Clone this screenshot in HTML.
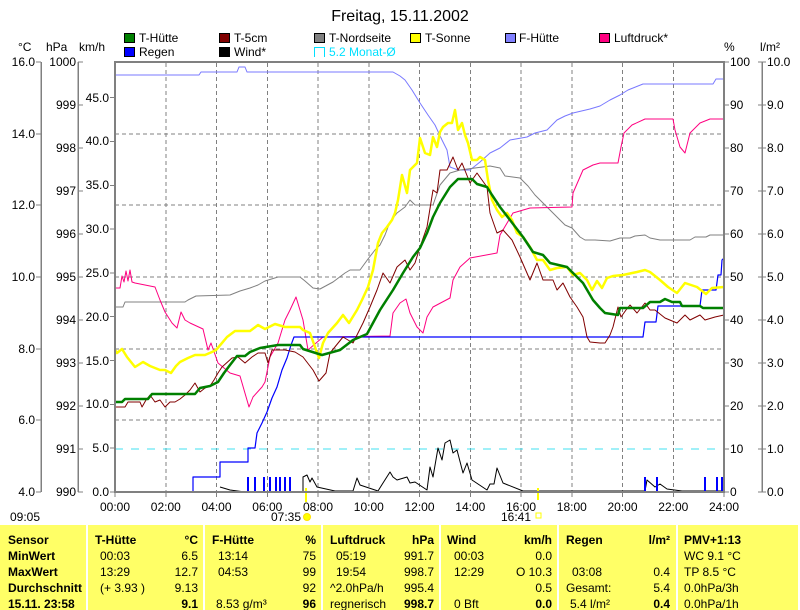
<!DOCTYPE html>
<html><head><meta charset="utf-8"><style>
html,body{margin:0;padding:0;background:#fff;}
svg{display:block;font-family:"Liberation Sans",Arial,sans-serif;}
</style></head><body>
<svg width="800" height="610" viewBox="0 0 800 610" xmlns="http://www.w3.org/2000/svg">
<rect width="800" height="610" fill="#fff"/>
<text x="400" y="21" font-size="16" text-anchor="middle" fill="#000">Freitag, 15.11.2002</text>
<g font-size="12" fill="#000">
<rect x="124.5" y="33.5" width="10" height="9" fill="#008000" stroke="#000"/><text x="139" y="42">T-Hütte</text>
<rect x="219.5" y="33.5" width="10" height="9" fill="#800000" stroke="#000"/><text x="234" y="42">T-5cm</text>
<rect x="314.5" y="33.5" width="10" height="9" fill="#808080" stroke="#000"/><text x="329" y="42">T-Nordseite</text>
<rect x="410.5" y="33.5" width="10" height="9" fill="#ffff00" stroke="#000"/><text x="425" y="42">T-Sonne</text>
<rect x="505.5" y="33.5" width="10" height="9" fill="#8080ff" stroke="#000"/><text x="519" y="42">F-Hütte</text>
<rect x="599.5" y="33.5" width="10" height="9" fill="#ff0080" stroke="#000"/><text x="614" y="42">Luftdruck*</text>
<rect x="124.5" y="47.5" width="10" height="9" fill="#0000ff" stroke="#000"/><text x="139" y="56">Regen</text>
<rect x="219.5" y="47.5" width="10" height="9" fill="#000" stroke="#000"/><text x="234" y="56">Wind*</text>
<path d="M314.5,57 V47.5 H324.5 V57" fill="none" stroke="#00e0ff"/><text x="329" y="56" fill="#00e0ff">5.2 Monat-Ø</text>
</g>
<g font-size="12" fill="#000">
<text x="18" y="51">°C</text><text x="46" y="51">hPa</text><text x="79" y="51">km/h</text>
<text x="724" y="51">%</text><text x="760" y="51">l/m²</text>
</g>
<g stroke="#808080" stroke-width="1.5" shape-rendering="crispEdges">
<line x1="41" y1="62" x2="41" y2="492"/><line x1="78" y1="62" x2="78" y2="492"/>
<line x1="762" y1="62" x2="762" y2="492"/>
</g>
<g stroke="#808080" stroke-width="1" shape-rendering="crispEdges">
<path d="M36,62H41M36,134H41M36,205H41M36,277H41M36,349H41M36,420H41M36,492H41"/>
<path d="M78,62H83M78,105H83M78,148H83M78,191H83M78,234H83M78,277H83M78,320H83M78,363H83M78,406H83M78,449H83M78,492H83"/>
<path d="M110,97.7H115M110,141.5H115M110,185.3H115M110,229.1H115M110,272.9H115M110,316.7H115M110,360.5H115M110,404.3H115M110,448.1H115M110,492H115"/>
<path d="M724,62H729M724,105H729M724,148H729M724,191H729M724,234H729M724,277H729M724,320H729M724,363H729M724,406H729M724,449H729M724,492H729"/>
<path d="M758,62H766M758,105H766M758,148H766M758,191H766M758,234H766M758,277H766M758,320H766M758,363H766M758,406H766M758,449H766M758,492H766"/>
<path d="M115,492V497M165.8,492V497M216.5,492V497M267.3,492V497M318,492V497M368.8,492V497M419.5,492V497M470.3,492V497M521,492V497M571.8,492V497M622.5,492V497M673.3,492V497M724,492V497"/>
</g>
<g font-size="12" fill="#000" text-anchor="end">
<text x="35" y="66">16.0</text><text x="35" y="138">14.0</text><text x="35" y="209">12.0</text><text x="35" y="281">10.0</text><text x="35" y="353">8.0</text><text x="35" y="424">6.0</text><text x="35" y="496">4.0</text>
<text x="76" y="66">1000</text><text x="76" y="109">999</text><text x="76" y="152">998</text><text x="76" y="195">997</text><text x="76" y="238">996</text><text x="76" y="281">995</text><text x="76" y="324">994</text><text x="76" y="367">993</text><text x="76" y="410">992</text><text x="76" y="453">991</text><text x="76" y="496">990</text>
<text x="109" y="102">45.0</text><text x="109" y="145">40.0</text><text x="109" y="189">35.0</text><text x="109" y="233">30.0</text><text x="109" y="277">25.0</text><text x="109" y="321">20.0</text><text x="109" y="365">15.0</text><text x="109" y="408">10.0</text><text x="109" y="452">5.0</text><text x="109" y="496">0.0</text>
</g>
<g font-size="12" fill="#000">
<text x="730" y="66">100</text><text x="730" y="109">90</text><text x="730" y="152">80</text><text x="730" y="195">70</text><text x="730" y="238">60</text><text x="730" y="281">50</text><text x="730" y="324">40</text><text x="730" y="367">30</text><text x="730" y="410">20</text><text x="730" y="453">10</text><text x="730" y="496">0</text>
<text x="767" y="66">10.0</text><text x="767" y="109">9.0</text><text x="767" y="152">8.0</text><text x="767" y="195">7.0</text><text x="767" y="238">6.0</text><text x="767" y="281">5.0</text><text x="767" y="324">4.0</text><text x="767" y="367">3.0</text><text x="767" y="410">2.0</text><text x="767" y="453">1.0</text><text x="767" y="496">0.0</text>
</g>
<g font-size="12" fill="#000" text-anchor="middle">
<text x="115" y="511">00:00</text><text x="165.8" y="511">02:00</text><text x="216.5" y="511">04:00</text><text x="267.3" y="511">06:00</text><text x="318" y="511">08:00</text><text x="368.8" y="511">10:00</text><text x="419.5" y="511">12:00</text><text x="470.3" y="511">14:00</text><text x="521" y="511">16:00</text><text x="571.8" y="511">18:00</text><text x="622.5" y="511">20:00</text><text x="673.3" y="511">22:00</text><text x="724" y="511">24:00</text>
<text x="286" y="521">07:35</text><text x="516" y="521">16:41</text>
</g>
<text x="10" y="521" font-size="12">09:05</text>
<circle cx="307" cy="517" r="3.5" fill="#ffff00" stroke="#ffe000"/>
<rect x="536" y="513" width="5" height="5" fill="none" stroke="#ffff00"/>
<g stroke="#808080" stroke-width="1" stroke-dasharray="4,3" shape-rendering="crispEdges">
<path d="M165.8,63V491M216.5,63V491M267.3,63V491M318,63V491M368.8,63V491M419.5,63V491M470.3,63V491M521,63V491M571.8,63V491M622.5,63V491M673.3,63V491"/>
<path d="M115,134H724M115,205H724M115,277H724M115,349H724M115,420H724"/>
</g>
<line x1="115" y1="449" x2="724" y2="449" stroke="#40e0f0" stroke-dasharray="8,8" shape-rendering="crispEdges"/>
<g fill="none" stroke-linejoin="round">
<polyline stroke="#000" stroke-width="1" points="220,487 230,490 245,492 303,492 303,477 307,475 310,482 312,478 317,487 335,491 353,491 357,478 360,485 378,491 383,483 390,472 393,477 397,480 407,477 410,483 415,482 427,490 430,467 433,477 438,448 442,460 445,443 450,440 453,453 457,450 463,473 467,463 472,480 487,490 490,484 494,484 497,468 503,483 523,491 528,491 645,491 647,480 655,487 660,484 667,489 682,491 724,491"/>
<polyline stroke="#7878ff" stroke-width="1" points="115,75 199,75 201,72 237,72 239,67 245,67 247,72 393,72 400,76 405,80 412,90 420,103 428,115 435,125 442,140 447,150 450,167 458,170 470,170 480,162 490,153 500,148 510,140 527,137 535,133 547,130 557,120 565,116 573,113 590,109 600,106 610,100 620,95 628,90 643,84 713,84 716,79 724,79"/>
<polyline stroke="#808080" stroke-width="1" points="115,307 123,307 125,302 185,302 188,300 196,296 230,295 240,291 250,288 258,285 265,281 278,277 300,277 305,281 313,288 320,289 333,282 345,273 350,270 360,270 368,259 375,250 380,245 385,235 390,222 397,213 405,207 410,200 415,205 433,205 440,185 450,173 460,170 475,168 490,166 500,168 505,176 520,178 528,186 535,195 545,205 555,215 565,225 572,228 580,237 585,240 595,240 610,241 620,238 630,238 635,236 645,235 650,238 660,240 690,240 695,237 706,237 710,235 724,235"/>
<polyline stroke="#ff0080" stroke-width="1" points="115,288 120,288 122,276 124,282 126,271 128,281 130,270 132,282 135,283 155,287 160,300 165,312 172,323 177,328 181,312 185,320 190,323 203,329 208,350 211,343 218,363 230,373 240,376 249,407 253,397 262,387 265,382 270,357 278,343 285,320 290,310 296,297 303,320 308,350 323,337 390,336 393,313 400,303 406,299 410,313 417,327 423,333 427,317 433,307 450,298 453,280 460,267 470,258 497,253 500,235 513,213 530,208 572,207 573,193 583,170 593,165 600,163 618,163 621,147 624,133 632,125 645,119 673,119 675,130 680,147 685,153 690,133 700,123 710,119 724,119"/>
<polyline stroke="#0000ff" stroke-width="1.2" points="115,492 193,492 193,477 220,477 220,462 248,462 248,448 255,448 257,433 262,423 267,412 272,398 277,387 282,370 287,358 291,345 294,337 643,337 645,322 656,322 658,306 700,306 702,290 716,290 718,275 721,275 722,260 724,258"/>
<polyline stroke="#ffff00" stroke-width="2.5" points="115,350 117,353 122,349 127,357 135,367 143,362 150,366 160,370 165,370 171,373 176,366 180,362 188,358 195,355 205,355 212,352 216,350 222,343 227,337 235,331 250,331 258,325 265,329 275,324 285,327 300,327 303,330 310,333 315,347 319,358 323,343 328,333 337,323 343,315 349,323 357,310 362,300 368,287 373,270 378,243 382,233 387,227 392,220 395,213 398,200 402,175 407,193 410,170 417,163 420,138 425,153 430,155 433,137 437,147 440,132 443,127 448,123 452,123 455,110 458,130 462,123 465,135 468,143 472,160 477,160 480,157 485,160 488,180 492,200 497,210 502,217 507,213 512,220 517,233 523,237 530,247 537,260 543,260 550,270 557,268 567,267 573,275 580,273 587,280 592,290 597,281 602,288 607,278 613,276 623,275 637,272 645,270 650,272 660,280 668,287 677,293 685,283 697,287 706,294 712,288 724,287"/>
<polyline stroke="#800000" stroke-width="1" points="115,407 125,407 128,402 140,402 142,407 146,400 150,395 155,402 160,400 165,407 170,402 175,402 180,399 185,395 190,390 195,383 200,392 205,388 210,386 214,380 218,373 222,367 232,358 238,357 245,363 252,357 258,353 265,353 268,363 272,350 285,350 295,352 303,357 313,370 319,381 326,373 330,353 343,337 353,343 363,323 370,307 377,290 383,273 390,283 397,267 405,260 410,270 415,263 420,247 427,227 433,190 437,193 440,170 447,170 453,157 458,170 462,163 470,183 477,173 487,187 490,213 497,233 503,230 512,240 520,257 530,280 537,263 543,280 553,280 557,290 563,283 570,297 577,307 583,317 587,337 590,342 600,343 605,343 610,335 613,327 618,307 621,317 626,310 630,305 637,313 645,303 650,310 655,310 665,318 677,323 685,315 690,320 700,315 705,320 715,317 724,315"/>
<polyline stroke="#008000" stroke-width="2.5" points="115,402 122,402 125,399 148,399 152,394 195,394 200,388 210,386 218,382 224,373 230,365 237,356 245,356 250,352 260,348 278,345 300,345 303,349 322,355 340,350 353,340 367,334 380,310 393,290 403,273 413,257 420,248 427,233 433,217 440,203 450,187 458,179 472,179 477,184 487,187 492,195 500,207 510,220 523,237 533,252 543,255 550,263 567,267 573,273 583,283 593,300 600,308 605,313 618,315 620,308 643,308 650,302 660,302 665,299 672,302 680,302 682,306 700,306 703,308 724,308"/>
</g>
<g stroke="#0000ff" stroke-width="2" shape-rendering="crispEdges">
<path d="M248,492V477M255,492V477M264,492V477M270,492V477M276,492V477M280,492V477M285,492V477M290,492V477M645,492V477M657,492V477M705,492V477M717,492V477M722,492V477"/>
</g>
<g stroke="#ffff00" stroke-width="2"><path d="M306,488V502M538,488V500"/></g>
<rect x="115" y="62" width="609" height="430" fill="none" stroke="#808080" stroke-width="2" shape-rendering="crispEdges"/>
<rect x="0" y="525" width="798" height="85" fill="#ffff66"/>
<g stroke="#fff" stroke-width="2"><path d="M87,525V610M204,525V610M322,525V610M440,525V610M558,525V610M677,525V610"/></g>
<g font-size="12" fill="#000">
<g font-weight="bold"><text x="8" y="544">Sensor</text><text x="8" y="560">MinWert</text><text x="8" y="576">MaxWert</text><text x="8" y="592">Durchschnitt</text><text x="8" y="608">15.11. 23:58</text>
<text x="95" y="544">T-Hütte</text><text x="212" y="544">F-Hütte</text><text x="330" y="544">Luftdruck</text><text x="447" y="544">Wind</text><text x="566" y="544">Regen</text><text x="684" y="544">PMV+1:13</text></g>
<text x="100" y="560">00:03</text><text x="100" y="576">13:29</text><text x="100" y="592">(+ 3.93 )</text>
<text x="218" y="560">13:14</text><text x="218" y="576">04:53</text><text x="216" y="608">8.53 g/m³</text>
<text x="336" y="560">05:19</text><text x="336" y="576">19:54</text><text x="330" y="592">^2.0hPa/h</text><text x="330" y="608">regnerisch</text>
<text x="454" y="560">00:03</text><text x="454" y="576">12:29</text><text x="454" y="608">0 Bft</text>
<text x="572" y="576">03:08</text><text x="566" y="592">Gesamt:</text><text x="570" y="608">5.4 l/m²</text>
<text x="684" y="560">WC 9.1 °C</text><text x="684" y="576">TP 8.5 °C</text><text x="684" y="592">0.0hPa/3h</text><text x="684" y="608">0.0hPa/1h</text>
<g text-anchor="end">
<text x="198" y="544" font-weight="bold">°C</text><text x="198" y="560">6.5</text><text x="198" y="576">12.7</text><text x="198" y="592">9.13</text><text x="198" y="608" font-weight="bold">9.1</text>
<text x="316" y="544" font-weight="bold">%</text><text x="316" y="560">75</text><text x="316" y="576">99</text><text x="316" y="592">92</text><text x="316" y="608" font-weight="bold">96</text>
<text x="434" y="544" font-weight="bold">hPa</text><text x="434" y="560">991.7</text><text x="434" y="576">998.7</text><text x="434" y="592">995.4</text><text x="434" y="608" font-weight="bold">998.7</text>
<text x="552" y="544" font-weight="bold">km/h</text><text x="552" y="560">0.0</text><text x="552" y="576">O 10.3</text><text x="552" y="592">0.5</text><text x="552" y="608" font-weight="bold">0.0</text>
<text x="670" y="544" font-weight="bold">l/m²</text><text x="670" y="576">0.4</text><text x="670" y="592">5.4</text><text x="670" y="608" font-weight="bold">0.4</text>
</g>
</g>
</svg>
</body></html>
